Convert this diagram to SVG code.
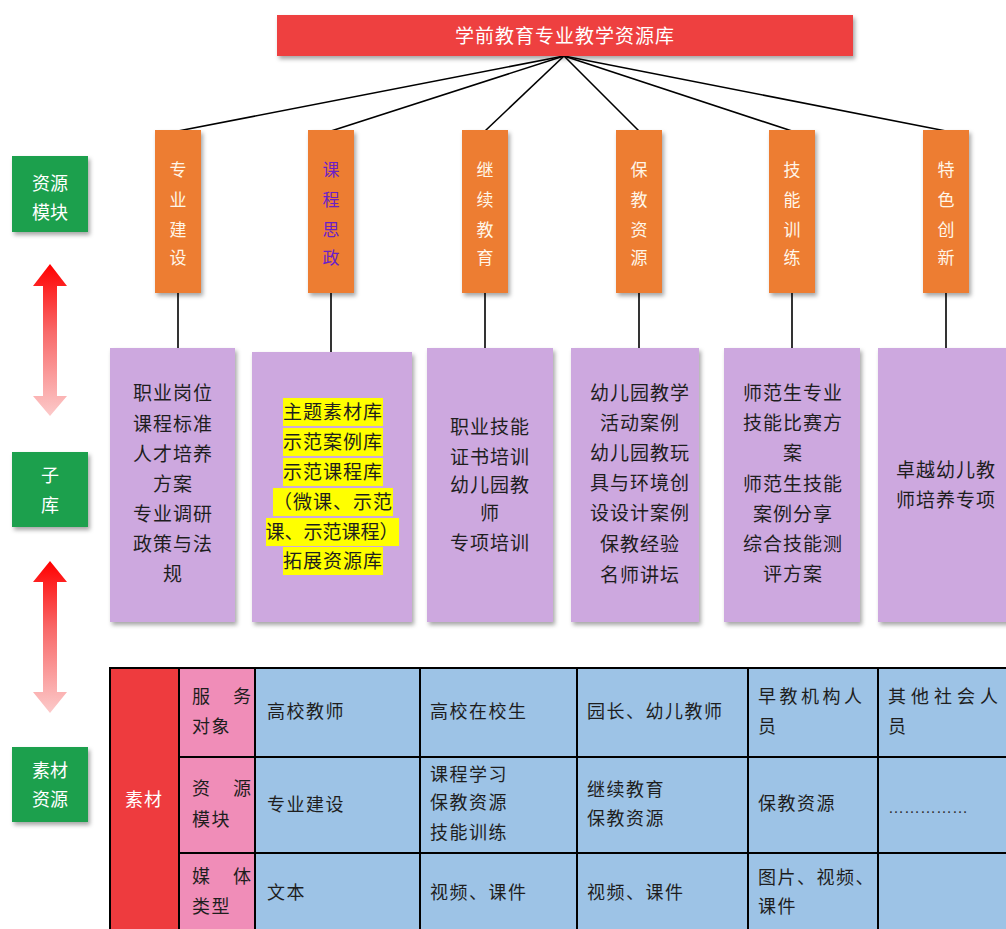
<svg xmlns="http://www.w3.org/2000/svg" width="1006" height="929" viewBox="0 0 1006 929">
<defs>
<filter id="sh" x="-20%" y="-20%" width="150%" height="150%">
<feDropShadow dx="2" dy="3" stdDeviation="2" flood-color="#000" flood-opacity="0.35"/>
</filter>
<linearGradient id="ag1" gradientUnits="userSpaceOnUse" x1="0" y1="264" x2="0" y2="416">
<stop offset="0" stop-color="#FF0000"/>
<stop offset="0.45" stop-color="#F86A6A"/>
<stop offset="1" stop-color="#FCCACA"/>
</linearGradient>
<linearGradient id="ag2" gradientUnits="userSpaceOnUse" x1="0" y1="561" x2="0" y2="713">
<stop offset="0" stop-color="#FF0000"/>
<stop offset="0.45" stop-color="#F86A6A"/>
<stop offset="1" stop-color="#FCCACA"/>
</linearGradient>
</defs>
<style>
text{font-family:"Noto Sans CJK SC","Noto Sans",sans-serif;}
.title{fill:#EE4141;filter:url(#sh);}
.org{fill:#ED7D31;filter:url(#sh);}
.pur{fill:#CDA8DF;filter:url(#sh);}
.grn{fill:#1FA04E;filter:url(#sh);}
.wt{fill:#FFF6E8;font-size:17px;text-anchor:middle;}
.gt{fill:#FFFFFF;font-size:18px;text-anchor:middle;}
.pt{fill:#1E1E1E;font-size:19px;letter-spacing:1px;text-anchor:middle;}
.hl{fill:#FFFF00;}
.tt{fill:#1E1E1E;font-size:18px;letter-spacing:1.5px;}
.ln{stroke:#000;stroke-width:1.6;fill:none;}
.cell{stroke:#000;stroke-width:2;}
</style>

<g id="connectors">
<line class="ln" x1="564" y1="56" x2="178" y2="131"/>
<line class="ln" x1="564" y1="56" x2="331" y2="131"/>
<line class="ln" x1="564" y1="56" x2="485" y2="131"/>
<line class="ln" x1="564" y1="56" x2="639" y2="131"/>
<line class="ln" x1="564" y1="56" x2="792" y2="131"/>
<line class="ln" x1="564" y1="56" x2="946" y2="131"/>
<line class="ln" x1="178" y1="293" x2="178" y2="349"/>
<line class="ln" x1="331" y1="293" x2="331" y2="352"/>
<line class="ln" x1="485" y1="293" x2="485" y2="349"/>
<line class="ln" x1="639" y1="293" x2="639" y2="349"/>
<line class="ln" x1="792" y1="293" x2="792" y2="349"/>
<line class="ln" x1="946" y1="293" x2="946" y2="349"/>
</g>

<g id="title">
<rect class="title" x="277" y="15" width="576" height="41"/>
<text x="565" y="43" fill="#FFFFFF" font-size="19" letter-spacing="1" text-anchor="middle">学前教育专业教学资源库</text>
</g>

<g id="mod1">
<rect class="org" x="155" y="130" width="46" height="163"/>
<text class="wt"><tspan x="178" y="176">专</tspan><tspan x="178" y="206">业</tspan><tspan x="178" y="236">建</tspan><tspan x="178" y="264">设</tspan></text>
</g>
<g id="mod2">
<rect class="org" x="308" y="130" width="46" height="163"/>
<text class="wt" style="fill:#6A1FC8"><tspan x="331" y="176">课</tspan><tspan x="331" y="206">程</tspan><tspan x="331" y="236">思</tspan><tspan x="331" y="264">政</tspan></text>
</g>
<g id="mod3">
<rect class="org" x="462" y="130" width="46" height="163"/>
<text class="wt"><tspan x="485" y="176">继</tspan><tspan x="485" y="206">续</tspan><tspan x="485" y="236">教</tspan><tspan x="485" y="264">育</tspan></text>
</g>
<g id="mod4">
<rect class="org" x="616" y="130" width="46" height="163"/>
<text class="wt"><tspan x="639" y="176">保</tspan><tspan x="639" y="206">教</tspan><tspan x="639" y="236">资</tspan><tspan x="639" y="264">源</tspan></text>
</g>
<g id="mod5">
<rect class="org" x="769" y="130" width="46" height="163"/>
<text class="wt"><tspan x="792" y="176">技</tspan><tspan x="792" y="206">能</tspan><tspan x="792" y="236">训</tspan><tspan x="792" y="264">练</tspan></text>
</g>
<g id="mod6">
<rect class="org" x="923" y="130" width="46" height="163"/>
<text class="wt"><tspan x="946" y="176">特</tspan><tspan x="946" y="206">色</tspan><tspan x="946" y="236">创</tspan><tspan x="946" y="264">新</tspan></text>
</g>

<g id="sub1">
<rect class="pur" x="110" y="348" width="125" height="274"/>
<text class="pt"><tspan x="173" y="400">职业岗位</tspan><tspan x="173" y="431">课程标准</tspan><tspan x="173" y="461">人才培养</tspan><tspan x="173" y="491">方案</tspan><tspan x="173" y="521">专业调研</tspan><tspan x="173" y="551">政策与法</tspan><tspan x="173" y="581">规</tspan></text>
</g>
<g id="sub2">
<rect class="pur" x="252" y="352" width="160" height="270"/>
<rect class="hl" x="283" y="398" width="100" height="28"/>
<rect class="hl" x="283" y="428" width="100" height="28"/>
<rect class="hl" x="283" y="458" width="100" height="28"/>
<rect class="hl" x="273" y="488" width="120" height="28"/>
<rect class="hl" x="266" y="518" width="133" height="28"/>
<rect class="hl" x="283" y="547" width="100" height="28"/>
<text class="pt"><tspan x="333" y="419">主题素材库</tspan><tspan x="333" y="449">示范案例库</tspan><tspan x="333" y="479">示范课程库</tspan><tspan x="333" y="509">（微课、示范</tspan><tspan x="332" y="539" style="letter-spacing:0">课、示范课程）</tspan><tspan x="333" y="568">拓展资源库</tspan></text>
</g>
<g id="sub3">
<rect class="pur" x="427" y="348" width="126" height="274"/>
<text class="pt"><tspan x="490" y="434">职业技能</tspan><tspan x="490" y="464">证书培训</tspan><tspan x="490" y="492">幼儿园教</tspan><tspan x="490" y="520">师</tspan><tspan x="490" y="550">专项培训</tspan></text>
</g>
<g id="sub4">
<rect class="pur" x="571" y="348" width="128" height="274"/>
<text class="pt"><tspan x="640" y="400">幼儿园教学</tspan><tspan x="640" y="430">活动案例</tspan><tspan x="640" y="460">幼儿园教玩</tspan><tspan x="640" y="490">具与环境创</tspan><tspan x="640" y="520">设设计案例</tspan><tspan x="640" y="551">保教经验</tspan><tspan x="640" y="582">名师讲坛</tspan></text>
</g>
<g id="sub5">
<rect class="pur" x="724" y="348" width="136" height="274"/>
<text class="pt"><tspan x="793" y="400">师范生专业</tspan><tspan x="793" y="430">技能比赛方</tspan><tspan x="793" y="460">案</tspan><tspan x="793" y="491">师范生技能</tspan><tspan x="793" y="521">案例分享</tspan><tspan x="793" y="551">综合技能测</tspan><tspan x="793" y="581">评方案</tspan></text>
</g>
<g id="sub6">
<rect class="pur" x="878" y="348" width="140" height="274"/>
<text class="pt"><tspan x="946" y="477">卓越幼儿教</tspan><tspan x="946" y="507">师培养专项</tspan></text>
</g>

<g id="label1">
<rect class="grn" x="12" y="156" width="76" height="76"/>
<text class="gt"><tspan x="50" y="190">资源</tspan><tspan x="50" y="219">模块</tspan></text>
</g>
<g id="label2">
<rect class="grn" x="12" y="452" width="76" height="75"/>
<text class="gt"><tspan x="50" y="482">子</tspan><tspan x="50" y="512">库</tspan></text>
</g>
<g id="label3">
<rect class="grn" x="12" y="747" width="76" height="75"/>
<text class="gt"><tspan x="50" y="777">素材</tspan><tspan x="50" y="806">资源</tspan></text>
</g>

<g id="arrows">
<path d="M50,264 L67,286 L57,286 L57,396 L67,396 L50,416 L33,396 L43,396 L43,286 L33,286 Z" fill="url(#ag1)"/>
<path d="M50,561 L67,582 L57,582 L57,692 L67,692 L50,713 L33,692 L43,692 L43,582 L33,582 Z" fill="url(#ag2)"/>
</g>

<g id="table">
<rect x="110" y="668" width="69" height="275" fill="#EE3B3E"/>
<rect x="179" y="668" width="76" height="275" fill="#F08DB8"/>
<rect x="255" y="668" width="760" height="275" fill="#9DC3E6"/>
<g class="cell">
<line x1="110" y1="668" x2="1010" y2="668"/>
<line x1="179" y1="757" x2="1010" y2="757"/>
<line x1="179" y1="853" x2="1010" y2="853"/>
<line x1="110" y1="667" x2="110" y2="935"/>
<line x1="179" y1="667" x2="179" y2="935"/>
<line x1="255" y1="667" x2="255" y2="935"/>
<line x1="420" y1="667" x2="420" y2="935"/>
<line x1="577" y1="667" x2="577" y2="935"/>
<line x1="748" y1="667" x2="748" y2="935"/>
<line x1="878" y1="667" x2="878" y2="935"/>
</g>
<text x="144" y="806" fill="#FFFFFF" font-size="18" letter-spacing="1" text-anchor="middle">素材</text>
<text class="tt"><tspan x="192" y="703">服</tspan><tspan x="233" y="703">务</tspan><tspan x="192" y="733">对象</tspan></text>
<text class="tt"><tspan x="192" y="795">资</tspan><tspan x="233" y="795">源</tspan><tspan x="192" y="826">模块</tspan></text>
<text class="tt"><tspan x="192" y="883">媒</tspan><tspan x="233" y="883">体</tspan><tspan x="192" y="913">类型</tspan></text>
<text class="tt" x="267" y="718">高校教师</text>
<text class="tt" x="430" y="718">高校在校生</text>
<text class="tt" x="587" y="718">园长、幼儿教师</text>
<text class="tt" style="letter-spacing:3.5px"><tspan x="758" y="703">早教机构人</tspan><tspan x="758" y="733">员</tspan></text>
<text class="tt" style="letter-spacing:5px"><tspan x="888" y="703">其他社会人</tspan><tspan x="888" y="733">员</tspan></text>
<text class="tt" x="267" y="811">专业建设</text>
<text class="tt"><tspan x="430" y="781">课程学习</tspan><tspan x="430" y="809">保教资源</tspan><tspan x="430" y="839">技能训练</tspan></text>
<text class="tt"><tspan x="587" y="796">继续教育</tspan><tspan x="587" y="825">保教资源</tspan></text>
<text class="tt" x="758" y="810">保教资源</text>
<text x="888" y="813" fill="#333" font-size="16" style="font-family:'Liberation Sans',sans-serif">……………</text>
<text class="tt" x="267" y="899">文本</text>
<text class="tt" x="430" y="899">视频、课件</text>
<text class="tt" x="587" y="899">视频、课件</text>
<text class="tt"><tspan x="758" y="884">图片、视频、</tspan><tspan x="758" y="913">课件</tspan></text>
</g>
</svg>
